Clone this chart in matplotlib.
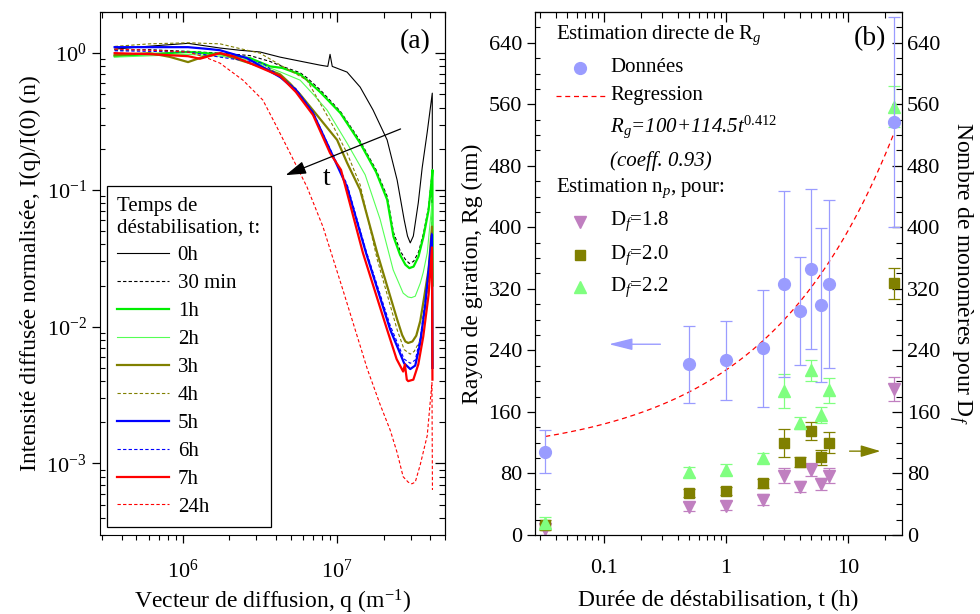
import matplotlib
matplotlib.use('Agg')
import matplotlib.pyplot as plt
import numpy as np
from matplotlib.ticker import NullFormatter, MultipleLocator, LogLocator
from matplotlib.lines import Line2D

plt.rcParams['font.family'] = ['Liberation Serif', 'DejaVu Serif']
plt.rcParams['mathtext.fontset'] = 'custom'
plt.rcParams['mathtext.rm'] = 'Liberation Serif'
plt.rcParams['mathtext.it'] = 'Liberation Serif:italic'
plt.rcParams['mathtext.bf'] = 'Liberation Serif:bold'

# ---------------- (a) courbes de diffusion ----------------
q_0h = [3.61e5, 6.1e5, 1.08e6, 1.74e6, 2.34e6, 3.16e6, 4.27e6, 5.75e6, 7.76e6, 8.7e6, 9.0e6, 9.3e6,
        1.16e7, 1.41e7, 1.71e7, 2.11e7, 2.45e7, 2.72e7, 2.86e7, 2.98e7, 3.12e7, 3.36e7, 3.56e7,
        3.84e7, 4.14e7, 4.15e7]
I_0h = [1.07, 1.125, 1.18, 1.09, 1.05, 1.02, 0.935, 0.874, 0.817, 0.80, 0.98, 0.80,
        0.727, 0.565, 0.384, 0.232, 0.118, 0.0606, 0.046, 0.041, 0.046, 0.0806, 0.145,
        0.265, 0.51, 0.03]

q_30m = [3.61e5, 6.1e5, 1.08e6, 1.74e6, 2.72e6, 3.67e6, 4.4e6, 5.75e6, 6.38e6, 7.76e6, 1.05e7,
         1.41e7, 1.79e7, 2.11e7, 2.32e7, 2.56e7, 2.77e7, 2.94e7, 3.13e7, 3.37e7, 3.63e7, 3.92e7,
         4.12e7, 4.15e7]
I_30m = [1.05, 1.06, 1.03, 1.0, 0.96, 0.87, 0.80, 0.72, 0.66, 0.54, 0.375,
         0.228, 0.14, 0.09, 0.049, 0.036, 0.031, 0.029, 0.030, 0.035, 0.048, 0.075,
         0.13, 0.02]

q_1h = [3.61e5, 6.1e5, 1.08e6, 1.74e6, 2.72e6, 3.67e6, 4.4e6, 5.75e6, 6.38e6, 7.76e6, 1.05e7,
        1.41e7, 1.79e7, 2.11e7, 2.32e7, 2.56e7, 2.77e7, 2.94e7, 3.13e7, 3.37e7, 3.63e7, 3.92e7,
        4.12e7, 4.15e7, 4.16e7]
I_1h = [0.95, 0.983, 1.02, 0.983, 0.92, 0.80, 0.78, 0.70, 0.635, 0.52, 0.365,
        0.22, 0.135, 0.085, 0.0456, 0.0335, 0.0284, 0.0268, 0.0275, 0.0326, 0.0456, 0.0714,
        0.125, 0.14, 0.02]

q_2h = [3.61e5, 1.08e6, 1.74e6, 2.72e6, 4.27e6, 5.75e6, 7.0e6, 8.6e6, 1.16e7, 1.52e7, 1.9e7,
        2.31e7, 2.68e7, 2.88e7, 3.03e7, 3.21e7, 3.46e7, 3.62e7, 3.84e7, 4.12e7, 4.15e7]
I_2h = [0.935, 0.98, 0.95, 0.89, 0.73, 0.635, 0.50, 0.384, 0.22, 0.129, 0.061,
        0.026, 0.0176, 0.0165, 0.0163, 0.0167, 0.0208, 0.025, 0.0346, 0.08, 0.02]

q_3h = [3.61e5, 6.1e5, 8.2e5, 1.08e6, 1.39e6, 1.74e6, 2.34e6, 3.16e6, 4.27e6, 4.95e6, 5.75e6,
        7.76e6, 1.0e7, 1.16e7, 1.41e7, 1.82e7, 2.45e7, 2.64e7, 2.77e7, 2.89e7, 3.08e7, 3.26e7,
        3.46e7, 3.62e7, 3.92e7, 4.12e7, 4.15e7]
I_3h = [0.967, 1.0, 0.94, 0.86, 0.95, 1.0, 0.89, 0.80, 0.70, 0.60, 0.50,
        0.33, 0.232, 0.158, 0.10, 0.0346, 0.0113, 0.0087, 0.0078, 0.0076, 0.0078, 0.0086,
        0.011, 0.015, 0.0263, 0.054, 0.005]

q_4h = [3.61e5, 6.1e5, 1.08e6, 1.74e6, 2.34e6, 3.16e6, 4.27e6, 6.38e6, 9.5e6, 1.16e7, 1.41e7,
        1.82e7, 2.45e7, 2.72e7, 2.98e7, 3.16e7, 3.42e7, 3.68e7, 3.92e7, 4.12e7, 4.15e7]
I_4h = [1.12, 1.17, 1.19, 1.17, 1.08, 1.0, 0.82, 0.635, 0.288, 0.186, 0.109,
        0.031, 0.0095, 0.0068, 0.0063, 0.0066, 0.0078, 0.0122, 0.022, 0.043, 0.005]

q_5h = [3.61e5, 6.1e5, 1.08e6, 1.5e6, 1.74e6, 2.6e6, 4.27e6, 5.4e6, 6.98e6, 9.0e6, 1.16e7,
        1.54e7, 2.21e7, 2.5e7, 2.72e7, 2.98e7, 3.21e7, 3.46e7, 3.73e7, 4.02e7, 4.12e7, 4.15e7]
I_5h = [1.106, 1.106, 1.106, 1.07, 1.05, 0.92, 0.668, 0.537, 0.365, 0.196, 0.105,
        0.0346, 0.0095, 0.0068, 0.0054, 0.0049, 0.0052, 0.0076, 0.0145, 0.0346, 0.047, 0.005]

q_6h = [3.61e5, 1.08e6, 1.74e6, 2.72e6, 3.3e6, 4.07e6, 5.4e6, 6.98e6, 9.0e6, 1.16e7, 1.54e7,
        2.21e7, 2.5e7, 2.72e7, 2.98e7, 3.21e7, 3.46e7, 3.73e7, 4.02e7, 4.12e7]
I_6h = [1.04, 1.02, 0.935, 0.87, 0.845, 0.70, 0.55, 0.37, 0.20, 0.11, 0.036,
        0.0102, 0.0073, 0.0058, 0.0054, 0.0057, 0.0083, 0.0158, 0.036, 0.05]

q_7h = [3.61e5, 6.1e5, 1.08e6, 1.29e6, 1.74e6, 2.11e6, 2.72e6, 4.27e6, 5.4e6, 6.98e6, 9.0e6,
        1.06e7, 1.47e7, 2.11e7, 2.43e7, 2.68e7, 2.75e7, 2.83e7, 2.89e7, 3.12e7, 3.36e7, 3.62e7,
        3.92e7, 4.12e7, 4.15e7]
I_7h = [1.0, 0.983, 0.95, 0.91, 1.0, 0.95, 0.845, 0.68, 0.52, 0.353, 0.186,
        0.14, 0.0346, 0.0095, 0.0058, 0.0047, 0.0053, 0.0041, 0.0040, 0.0041, 0.0053, 0.0085,
        0.0172, 0.038, 0.0041]

q_24h = [3.61e5, 6.1e5, 1.08e6, 1.39e6, 1.74e6, 2.45e6, 3.3e6, 4.07e6, 4.95e6, 6.38e6, 8.1e6,
         1.09e7, 1.21e7, 1.57e7, 1.9e7, 2.21e7, 2.45e7, 2.68e7, 2.89e7, 3.05e7, 3.21e7, 3.46e7,
         3.84e7, 4.12e7, 4.15e7]
I_24h = [1.07, 1.05, 1.02, 0.935, 0.845, 0.635, 0.454, 0.288, 0.186, 0.105, 0.0537,
         0.0186, 0.0127, 0.0049, 0.0027, 0.00175, 0.0012, 0.0008, 0.00073, 0.00071, 0.00073, 0.00098,
         0.0016, 0.0039, 0.00064]

labels_a = ['0h', '30 min', '1h', '2h', '3h', '4h', '5h', '6h', '7h', '24h']

# ---------------- (b) rayon de giration ----------------
t_h = [0.033, 0.5, 1, 2, 3, 4, 5, 6, 7, 24]
rg = [108, 222, 227, 243, 326, 291, 346, 299, 326, 537]
rg_err = [28, 50, 51, 76, 121, 70, 104, 100, 109, 137]

np_18 = [8, 37, 38, 46, 77, 63, 85, 66, 77, 190]
np_18_err = [8, 6, 6, 7, 10, 7, 8, 8, 10, 16]
np_20 = [13, 55, 57, 67, 120, 95, 135, 101, 120, 327]
np_20_err = [6, 5, 5, 6, 18, 6, 12, 10, 14, 20]
np_22 = [16, 82, 85, 100, 187, 146, 214, 156, 188, 557]
np_22_err = [8, 7, 7, 7, 22, 8, 14, 10, 16, 27]

# regression donnee sur la figure : Rg = 100 + 114.5 t^0.412
reg_a, reg_b, reg_c = 100, 114.5, 0.412

t_ticks = [0.1, 1, 10]
t_ticklabels = ['0.1', '1', '10']

c_blue_pts = '#9a9cff'
c_olive = '#808000'
c_green_pts = '#80ff80'
c_purple = '#c07fc0'


def mirror_axes(ax):
    # ticks comme Origin : dehors en bas/gauche, dedans en haut/droite
    ax.tick_params(which='major', direction='out', length=6, width=0.9, top=False, right=False)
    ax.tick_params(axis='x', which='minor', direction='out', length=3.5, width=0.8, top=False)
    ax.tick_params(axis='y', which='minor', direction='in', length=3.5, width=0.8, right=False)
    top = ax.secondary_xaxis('top')
    top.tick_params(which='major', direction='in', length=7, width=0.9)
    top.tick_params(which='minor', direction='in', length=4, width=0.8)
    top.xaxis.set_major_formatter(NullFormatter())
    top.xaxis.set_minor_formatter(NullFormatter())
    return top


fig = plt.figure(figsize=(9.8, 6.14), dpi=100)

# ---------- panneau (a) ----------
ax1 = fig.add_axes([0.102, 0.1287, 0.352, 0.8518])
ax1.set_xscale('log')
ax1.set_yscale('log')

thin = 0.8
thick = 1.6
dash = (0, (3, 2))
ax1.plot(q_0h, I_0h, color='black', lw=thin, label=labels_a[0])
ax1.plot(q_30m, I_30m, color='black', lw=thin, ls=dash, label=labels_a[1])
ax1.plot(q_1h, I_1h, color='#00ee00', lw=thick, label=labels_a[2])
ax1.plot(q_2h, I_2h, color='#55ff55', lw=thin, label=labels_a[3])
ax1.plot(q_3h, I_3h, color=c_olive, lw=thick, label=labels_a[4])
ax1.plot(q_4h, I_4h, color=c_olive, lw=thin, ls=dash, label=labels_a[5])
ax1.plot(q_5h, I_5h, color='#0000ff', lw=thick, label=labels_a[6])
ax1.plot(q_6h, I_6h, color='#0000ff', lw=thin, ls=dash, label=labels_a[7])
ax1.plot(q_7h, I_7h, color='#ff0000', lw=thick, label=labels_a[8])
ax1.plot(q_24h, I_24h, color='#ff0000', lw=thin, ls=dash, label=labels_a[9])

ax1.set_xlim(2.9e5, 5.0e7)
ax1.set_ylim(3e-4, 2)
ax1.tick_params(labelsize=16)
ax1.tick_params(axis='x', pad=12)
ax1.yaxis.set_minor_formatter(NullFormatter())
ax1.xaxis.set_minor_formatter(NullFormatter())
mirror_axes(ax1)
right1 = ax1.secondary_yaxis('right')
right1.tick_params(which='major', direction='in', length=7, width=0.9)
right1.tick_params(which='minor', direction='in', length=4, width=0.8)
right1.yaxis.set_major_formatter(NullFormatter())
right1.yaxis.set_minor_formatter(NullFormatter())

ax1.set_xlabel('Vecteur de diffusion, q (m$^{-1}$)', fontsize=17, labelpad=3)
ax1.set_ylabel('Intensité diffusée normalisée, I(q)/I(0) (n)', fontsize=17, labelpad=4)

leg = ax1.legend(title='Temps de\ndéstabilisation, t:', loc='lower left',
                 bbox_to_anchor=(0.02, 0.015), borderaxespad=0, fontsize=15,
                 title_fontsize=15, frameon=True, fancybox=False, edgecolor='black',
                 framealpha=1, handlelength=2.5, handletextpad=0.4, labelspacing=0.4,
                 alignment='left', borderpad=0.5)
leg.get_frame().set_linewidth(0.9)

ax1.annotate('', xy=(4.46e6, 0.126), xytext=(2.68e7, 0.284),
             arrowprops=dict(arrowstyle='-|>,head_length=0.7,head_width=0.22',
                             color='black', lw=0.9, mutation_scale=18))
ax1.text(8.5e6, 0.122, 't', fontsize=20, ha='center', va='center')
ax1.text(0.913, 0.943, '(a)', transform=ax1.transAxes, fontsize=20, ha='center', va='center')

# ---------- panneau (b) ----------
ax2 = fig.add_axes([0.546, 0.1287, 0.3745, 0.8518])
ax3 = ax2.twinx()
ax2.set_zorder(ax3.get_zorder() + 1)
ax2.patch.set_visible(False)

for ax in (ax2, ax3):
    ax.set_xscale('log')
    ax.set_xlim(0.0272, 27.7)
    ax.set_ylim(0, 680)
    ax.yaxis.set_major_locator(MultipleLocator(80))
    ax.yaxis.set_minor_locator(MultipleLocator(20))

ek = dict(capsize=4.5, elinewidth=0.9, capthick=0.9, ls='none')
ax3.errorbar(t_h, np_18, yerr=np_18_err, fmt='v', color=c_purple, ms=9, **ek)
ax3.errorbar(t_h, np_20, yerr=np_20_err, fmt='s', color=c_olive, ms=7.5, **ek)
ax3.errorbar(t_h, np_22, yerr=np_22_err, fmt='^', color=c_green_pts, ms=9, **ek)

t_fit = np.logspace(np.log10(t_h[0]), np.log10(t_h[-1]), 200)
ax2.plot(t_fit, reg_a + reg_b * t_fit ** reg_c, color='#ff0000', lw=0.9, ls=(0, (4, 3)))
ax2.errorbar(t_h, rg, yerr=rg_err, fmt='o', color=c_blue_pts, ms=8.5, **ek)

ax2.set_xticks(t_ticks)
ax2.set_xticklabels(t_ticklabels)
ax2.xaxis.set_minor_locator(LogLocator(base=10, subs=np.arange(2, 10)))
ax2.xaxis.set_minor_formatter(NullFormatter())
ax2.tick_params(labelsize=16)
ax2.tick_params(axis='x', pad=11)
mirror_axes(ax2)
ax3.tick_params(which='major', direction='in', length=7, width=0.9, labelsize=16)
ax3.tick_params(which='minor', direction='in', length=4, width=0.8)
ax3.tick_params(axis='x', which='both', bottom=False, top=False)

ax2.set_xlabel('Durée de déstabilisation, t (h)', fontsize=17, labelpad=9)
ax2.set_ylabel('Rayon de giration, Rg (nm)', fontsize=17, labelpad=4)
ax3.set_ylabel('Nombre de monomères pour D$_f$', fontsize=17, rotation=270, labelpad=25)

# fleches indiquant l'axe
ax2.annotate('', xy=(0.104, 248), xytext=(0.305, 248),
             arrowprops=dict(arrowstyle='-|>,head_length=1.2,head_width=0.3',
                             color=c_blue_pts, lw=1, mutation_scale=12))
ax2.annotate('', xy=(19.4, 109), xytext=(9.76, 109),
             arrowprops=dict(arrowstyle='-|>,head_length=1.0,head_width=0.3',
                             color=c_olive, lw=1, mutation_scale=12))

ax2.text(0.913, 0.950, '(b)', transform=ax2.transAxes, fontsize=20, ha='center', va='center')

# legende faite a la main (comme Origin)
tr = ax2.transAxes
fs = 15
x_head, x_mark, x_txt = 0.057, 0.1226, 0.2044
ax2.text(x_head, 0.956, 'Estimation directe de R$_g$', transform=tr, fontsize=fs, va='center')
ax2.plot([x_mark], [0.893], 'o', color=c_blue_pts, ms=8.5, transform=tr, clip_on=False)
ax2.text(x_txt, 0.893, 'Données', transform=tr, fontsize=fs, va='center')
ax2.add_line(Line2D([0.057, 0.19], [0.840, 0.840], transform=tr, color='#ff0000',
                    lw=0.9, ls=(0, (4, 3))))
ax2.text(x_txt, 0.840, 'Regression', transform=tr, fontsize=fs, va='center')
ax2.text(x_txt, 0.781, r'R$_\mathit{g}$=100+114.5t$^\mathit{0.412}$', transform=tr,
         fontsize=fs, va='center', style='italic')
ax2.text(x_txt, 0.715, '(coeff. 0.93)', transform=tr, fontsize=fs, va='center', style='italic')
ax2.text(x_head, 0.6635, 'Estimation n$_p$, pour:', transform=tr, fontsize=fs, va='center')
ax2.plot([x_mark], [0.599], 'v', color=c_purple, ms=9, transform=tr, clip_on=False)
ax2.text(x_txt, 0.599, 'D$_f$=1.8', transform=tr, fontsize=fs, va='center')
ax2.plot([x_mark], [0.5354], 's', color=c_olive, ms=7.5, transform=tr, clip_on=False)
ax2.text(x_txt, 0.5354, 'D$_f$=2.0', transform=tr, fontsize=fs, va='center')
ax2.plot([x_mark], [0.4736], '^', color=c_green_pts, ms=9, transform=tr, clip_on=False)
ax2.text(x_txt, 0.4736, 'D$_f$=2.2', transform=tr, fontsize=fs, va='center')

fig.savefig('out.png', dpi=100)
